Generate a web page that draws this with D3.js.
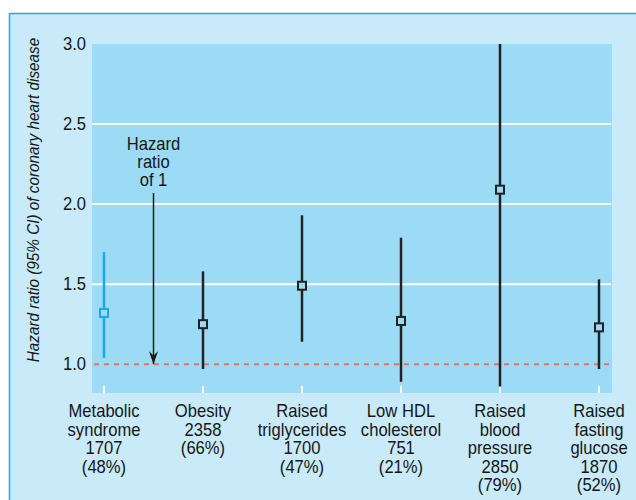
<!DOCTYPE html>
<html>
<head>
<meta charset="utf-8">
<script src="https://cdn.jsdelivr.net/npm/d3@7"></script>
<style>
  body { margin: 0; background: #fff; }
  text { font-family: "Liberation Sans", Arial, sans-serif; fill: #161616; }
</style>
</head>
<body>
<div id="chart"></div>
<script>
// Width and height
var chart_width  = 636;
var chart_height = 500;
var squeeze      = 0.95;   // horizontal compression to mimic a condensed face

// Data
var categories = ['Metabolic syndrome', 'Obesity', 'Raised triglycerides', 'Low HDL cholesterol', 'Raised blood pressure', 'Raised fasting glucose'];
var labels = [
	['Metabolic', 'syndrome', '1707', '(48%)'],
	['Obesity', '2358', '(66%)'],
	['Raised', 'triglycerides', '1700', '(47%)'],
	['Low HDL', 'cholesterol', '751', '(21%)'],
	['Raised', 'blood', 'pressure', '2850', '(79%)'],
	['Raised', 'fasting', 'glucose', '1870', '(52%)']
];
var hazard = [1.32, 1.25, 1.49, 1.27, 2.09, 1.23];
var ci_low = [1.04, 0.97, 1.14, 0.89, 0.86, 0.97];
var ci_high = [1.70, 1.58, 1.93, 1.79, 3.00, 1.53];
var y_ticks = [1.0, 1.5, 2.0, 2.5, 3.0];

var plot = {left: 92, right: 612, top: 44, bottom: 393};

var x = d3.scalePoint()
	.domain(categories)
	.range([104, 599]);

var y = d3.scaleLinear()
	.domain([0.82, 3.0])
	.range([plot.bottom, plot.top]);

var svg = d3.select('#chart')
	.append('svg')
	.attr('width', chart_width)
	.attr('height', chart_height);

// outer panel
svg.append('rect')
	.attr('x', 9.5)
	.attr('y', 13.5)
	.attr('width', chart_width)
	.attr('height', chart_height)
	.attr('fill', '#c8eaf9')
	.attr('stroke', '#2aa7de')
	.attr('stroke-width', 1.5);

// plot area
svg.append('rect')
	.attr('x', plot.left)
	.attr('y', plot.top)
	.attr('width', plot.right - plot.left)
	.attr('height', plot.bottom - plot.top)
	.attr('fill', '#9cdbf6');

// gridlines
svg.append('g')
	.selectAll('line')
	.data(y_ticks.filter((d) => d > 1 && d < 3))
	.enter()
	.append('line')
	.attr('x1', plot.left)
	.attr('x2', plot.right - 1)
	.attr('y1', (d) => y(d))
	.attr('y2', (d) => y(d))
	.attr('stroke', '#fff')
	.attr('stroke-width', 2);

// y axis labels
svg.append('g')
	.selectAll('g')
	.data(y_ticks)
	.enter()
	.append('g')
	.attr('transform', (d) => 'translate(' + (plot.left - 6) + ',' + y(d) + ') scale(' + squeeze + ',1)')
	.append('text')
	.attr('text-anchor', 'end')
	.attr('dy', '0.36em')
	.attr('font-size', 17.5)
	.text(d3.format('.1f'));

svg.append('text')
	.attr('transform', 'translate(39,200) rotate(-90) scale(0.9,1)')
	.attr('text-anchor', 'middle')
	.attr('font-size', 17)
	.attr('font-style', 'italic')
	.text('Hazard ratio (95% CI) of coronary heart disease');

// x ticks (small white marks at bottom of plot)
svg.append('g')
	.selectAll('line')
	.data(categories)
	.enter()
	.append('line')
	.attr('x1', (d) => x(d))
	.attr('x2', (d) => x(d))
	.attr('y1', plot.bottom - 7)
	.attr('y2', plot.bottom)
	.attr('stroke', '#fff')
	.attr('stroke-width', 2);

// reference line at 1
svg.append('line')
	.attr('x1', plot.left + 2)
	.attr('x2', plot.right)
	.attr('y1', y(1))
	.attr('y2', y(1))
	.attr('stroke', '#e8735a')
	.attr('stroke-width', 2)
	.attr('stroke-dasharray', '5,5');

// annotation arrow
var defs = svg.append('defs');
defs.append('marker')
	.attr('id', 'arrow')
	.attr('viewBox', '0 0 12 9')
	.attr('preserveAspectRatio', 'none')
	.attr('refX', 12)
	.attr('refY', 4.5)
	.attr('markerWidth', 13)
	.attr('markerHeight', 9)
	.attr('markerUnits', 'userSpaceOnUse')
	.attr('orient', 'auto')
	.append('path')
	.attr('d', 'M0,0 L12,4.5 L0,9 L4,4.5 Z')
	.attr('fill', '#1a1a1a');

var arrowX = (x(categories[0]) + x(categories[1])) / 2;
svg.append('line')
	.attr('x1', arrowX)
	.attr('x2', arrowX)
	.attr('y1', 193)
	.attr('y2', y(1))
	.attr('stroke', '#1a1a1a')
	.attr('stroke-width', 1.5)
	.attr('marker-end', 'url(#arrow)');

svg.append('g')
	.attr('transform', 'translate(' + arrowX + ',0) scale(' + squeeze + ',1)')
	.append('text')
	.attr('text-anchor', 'middle')
	.attr('font-size', 17.5)
	.selectAll('tspan')
	.data(['Hazard', 'ratio', 'of 1'])
	.enter()
	.append('tspan')
	.attr('x', 0)
	.attr('y', (d, i) => 150.5 + i * 18)
	.text((d) => d);

// error bars
var points = categories.map((c, i) => ({cat: c, hr: hazard[i], lo: ci_low[i], hi: ci_high[i], first: i === 0}));

svg.append('g')
	.selectAll('line')
	.data(points)
	.enter()
	.append('line')
	.attr('x1', (d) => x(d.cat))
	.attr('x2', (d) => x(d.cat))
	.attr('y1', (d) => y(d.lo))
	.attr('y2', (d) => y(d.hi))
	.attr('stroke', (d) => d.first ? '#1ba9e6' : '#222')
	.attr('stroke-width', 2.5);

svg.append('g')
	.selectAll('rect')
	.data(points)
	.enter()
	.append('rect')
	.attr('x', (d) => x(d.cat) - 4)
	.attr('y', (d) => y(d.hr) - 4)
	.attr('width', 8)
	.attr('height', 8)
	.attr('fill', '#9cdbf6')
	.attr('stroke', (d) => d.first ? '#1ba9e6' : '#222')
	.attr('stroke-width', 2);

// category labels
var labelGroups = svg.append('g')
	.selectAll('g')
	.data(categories)
	.enter()
	.append('g')
	.attr('transform', (d) => 'translate(' + x(d) + ',0) scale(' + squeeze + ',1)')
	.append('text')
	.attr('text-anchor', 'middle')
	.attr('font-size', 17.5);

labelGroups.selectAll('tspan')
	.data((d, i) => labels[i])
	.enter()
	.append('tspan')
	.attr('x', 0)
	.attr('y', (d, i) => 417 + i * 18.6)
	.text((d) => d);
</script>
</body>
</html>
